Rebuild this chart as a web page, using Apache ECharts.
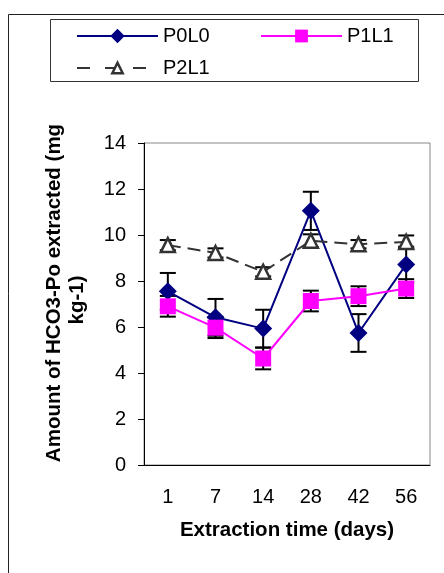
<!DOCTYPE html>
<html><head><meta charset="utf-8">
<script src="https://cdn.jsdelivr.net/npm/echarts@6/dist/echarts.min.js"></script>
<style>html,body{margin:0;padding:0;background:#fff}#c{width:444px;height:573px}</style>
</head><body><div id="c"></div>
<script>
const categories = ['1', '7', '14', '28', '42', '56'];
const seriesNames = ['P0L0', 'P1L1', 'P2L1'];
const p0l0 = [7.55, 6.42, 5.93, 11.05, 5.74, 8.72];
const p0l0Err = [0.80, 0.80, 0.82, 0.83, 0.82, 0.77];
const p1l1 = [6.90, 5.97, 4.63, 7.13, 7.34, 7.67];
const p1l1Err = [0.45, 0.45, 0.47, 0.45, 0.43, 0.41];
const p2l1 = [9.56, 9.22, 8.40, 9.75, 9.60, 9.70];
const p2l1Err = [0.22, 0.20, 0.20, 0.28, 0.18, 0.28];
const yMin = 0, yMax = 14, yStep = 2;
const xTitle = 'Extraction time (days)';
const yTitle1 = 'Amount of HCO3-Po extracted (mg';
const yTitle2 = 'kg-1)';

const FONT = '"Liberation Sans", Arial, sans-serif';

function errSeries(vals, errs, name) {
  return {
    type: 'custom', name: name + ' err', z: 1, silent: true,
    data: vals.map((v, i) => [i, v - errs[i], v + errs[i]]),
    encode: { x: 0, y: [1, 2] },
    renderItem(params, api) {
      const lo = api.coord([api.value(0), api.value(1)]);
      const hi = api.coord([api.value(0), api.value(2)]);
      const w = 8;
      const st = { stroke: '#000', lineWidth: 2 };
      return { type: 'group', children: [
        { type: 'line', shape: { x1: lo[0], y1: lo[1], x2: hi[0], y2: hi[1] }, style: st },
        { type: 'line', shape: { x1: lo[0] - w, y1: lo[1], x2: lo[0] + w, y2: lo[1] }, style: st },
        { type: 'line', shape: { x1: hi[0] - w, y1: hi[1], x2: hi[0] + w, y2: hi[1] }, style: st }
      ]};
    }
  };
}

const chart = echarts.init(document.getElementById('c'), null, { renderer: 'canvas' });
const legendBase = { itemWidth: 81, itemGap: 0, padding: 0,
  textStyle: { fontSize: 20, fontFamily: FONT, color: '#000' } };
chart.setOption({
  animation: false,
  backgroundColor: '#fff',
  textStyle: { fontFamily: FONT },
  grid: { left: 144, right: 14, top: 143, bottom: 108, show: true, borderColor: '#888', borderWidth: 1 },
  legend: [
    Object.assign({ data: [seriesNames[0]], left: 76, top: 26, itemHeight: 18 }, legendBase),
    Object.assign({ data: [seriesNames[1]], left: 260, top: 26, itemHeight: 16 }, legendBase),
    Object.assign({ data: [{ name: seriesNames[2], lineStyle: { type: [13, 15] },
      itemStyle: { borderWidth: 2.5, borderColor: '#333', color: '#fff' } }], left: 76, top: 58, itemHeight: 13 }, legendBase)
  ],
  xAxis: {
    type: 'category', data: categories, boundaryGap: true,
    axisLine: { lineStyle: { color: '#000', width: 1 } },
    axisTick: { length: 6, lineStyle: { color: '#000' } },
    axisLabel: { fontSize: 20, color: '#000', margin: 22, fontFamily: FONT },
    name: xTitle, nameLocation: 'middle', nameGap: 55,
    nameTextStyle: { fontSize: 20.5, fontWeight: 'bold', color: '#000', fontFamily: FONT }
  },
  yAxis: {
    type: 'value', min: yMin, max: yMax, interval: yStep,
    axisLine: { show: true, lineStyle: { color: '#000', width: 1 } },
    axisTick: { show: true, length: 6, lineStyle: { color: '#000' } },
    splitLine: { show: false },
    axisLabel: { fontSize: 20, color: '#000', margin: 18, fontFamily: FONT }
  },
  graphic: [
    { type: 'line', shape: { x1: 8.5, y1: 14.5, x2: 444, y2: 14.5 }, style: { stroke: '#222', lineWidth: 1 } },
    { type: 'line', shape: { x1: 8.5, y1: 14.5, x2: 8.5, y2: 573 }, style: { stroke: '#222', lineWidth: 1 } },
    { type: 'rect', shape: { x: 50.5, y: 19.5, width: 368, height: 62 }, style: { fill: 'none', stroke: '#333', lineWidth: 1 }, z: -1 },
    { type: 'text', x: 54, y: 293, rotation: Math.PI / 2,
      style: { text: yTitle1, font: 'bold 20.5px ' + FONT, fill: '#000', textAlign: 'center', textVerticalAlign: 'middle' } },
    { type: 'text', x: 77, y: 300, rotation: Math.PI / 2,
      style: { text: yTitle2, font: 'bold 20.5px ' + FONT, fill: '#000', textAlign: 'center', textVerticalAlign: 'middle' } }
  ],
  series: [
    errSeries(p0l0, p0l0Err, 'P0L0'),
    errSeries(p1l1, p1l1Err, 'P1L1'),
    errSeries(p2l1, p2l1Err, 'P2L1'),
    { type: 'line', name: seriesNames[0], data: p0l0, z: 3, symbol: 'diamond', symbolSize: 18,
      lineStyle: { color: '#000080', width: 2 }, itemStyle: { color: '#000080' } },
    { type: 'line', name: seriesNames[1], data: p1l1, z: 4, symbol: 'rect', symbolSize: 16,
      lineStyle: { color: '#FF00FF', width: 2 }, itemStyle: { color: '#FF00FF' } },
    { type: 'line', name: seriesNames[2], data: p2l1, z: 5, symbol: 'triangle', symbolSize: 14,
      lineStyle: { color: '#333', width: 2, type: [13, 7] },
      itemStyle: { color: '#fff', borderColor: '#333', borderWidth: 2.5 } }
  ]
});
</script></body></html>
